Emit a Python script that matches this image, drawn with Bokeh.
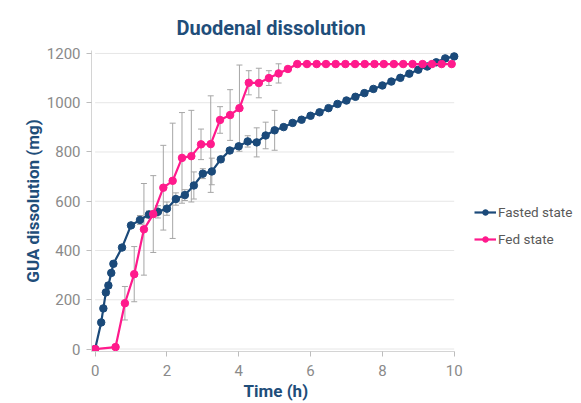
from bokeh.plotting import figure
from bokeh.models import Range1d, Legend, LegendItem, Whisker, ColumnDataSource, FixedTicker, Title
from bokeh.embed import file_html
from bokeh.resources import INLINE

# ---- data ----
fasted_time = [0, 0.17, 0.23, 0.30, 0.37, 0.45, 0.51, 0.75, 1.0, 1.25, 1.5, 1.75, 2.0, 2.25, 2.5,
               2.75, 3.0, 3.25, 3.5, 3.75, 4.0, 4.25, 4.5, 4.75, 5.0, 5.25, 5.5, 5.75, 6.0, 6.25,
               6.5, 6.75, 7.0, 7.25, 7.5, 7.75, 8.0, 8.25, 8.5, 8.75, 9.0, 9.25, 9.5, 9.75, 10.0]
fasted_mg = [0, 108, 165, 230, 258, 309, 346, 412, 502, 524, 546, 557, 570, 609, 625,
             664, 712, 721, 770, 806, 823, 843, 839, 867, 888, 901, 918, 931, 947, 961,
             978, 995, 1009, 1024, 1039, 1056, 1070, 1086, 1101, 1118, 1134, 1147, 1164, 1180, 1188]
fasted_err = [0, 10, 10, 12, 12, 10, 10, 0, 0, 18, 15, 25, 27, 25, 22,
              55, 20, 54, 12, 10, 10, 23, 59, 54, 81, 0, 0, 0, 0, 0,
              0, 0, 0, 0, 0, 0, 0, 0, 0, 0, 0, 0, 0, 0, 0]

fed_time = [0, 0.57, 0.83, 1.09, 1.36, 1.62, 1.90, 2.16, 2.42, 2.68, 2.95, 3.22, 3.48, 3.76,
            4.02, 4.28, 4.56, 4.84, 5.11, 5.37, 5.63, 5.90, 6.17, 6.43, 6.70, 6.97, 7.24,
            7.51, 7.78, 8.04, 8.32, 8.58, 8.84, 9.12, 9.38, 9.65, 9.93]
fed_mg = [0, 8, 186, 304, 486, 548, 655, 683, 776, 783, 831, 832, 930, 950,
          978, 1081, 1080, 1100, 1119, 1137, 1157, 1157, 1157, 1157, 1157, 1157, 1157,
          1157, 1157, 1157, 1157, 1157, 1157, 1157, 1157, 1157, 1157]
fed_err = [0, 0, 68, 112, 186, 156, 172, 234, 184, 186, 62, 196, 54, 103,
           175, 49, 60, 30, 39, 0, 0, 0, 0, 0, 0, 0, 0,
           0, 0, 0, 0, 0, 0, 0, 0, 0, 0]

x_ticks = [0, 2, 4, 6, 8, 10]
y_ticks = [0, 200, 400, 600, 800, 1000, 1200]
series_names = ["Fasted state", "Fed state"]

BLUE = "#1b4a7a"
PINK = "#ff1a8c"
NAVY = "#1f4e7a"
GREY_TXT = "#8a8a8a"
FONT = "Roboto"

# frame extends to the right so that the legend can sit inside it
p = figure(width=576, height=402, output_backend="svg", toolbar_location=None,
           x_range=Range1d(-0.1, 13.35), y_range=Range1d(-10, 1212),
           min_border_left=91, min_border_right=2, min_border_top=50, min_border_bottom=51)

p.title.text = "Duodenal dissolution"
p.title.align = "left"
p.title.offset = 85
p.title.text_font = FONT
p.title.text_font_size = "20px"
p.title.text_font_style = "bold"
p.title.text_color = NAVY
p.title.standoff = 21

p.outline_line_color = None
p.xgrid.grid_line_color = None
p.ygrid.grid_line_color = None

# horizontal grid lines limited to the data span
p.segment(x0=[x_ticks[0]] * len(y_ticks), x1=[x_ticks[-1]] * len(y_ticks),
          y0=y_ticks, y1=y_ticks, line_color="#e6e6e6", line_width=1, level="underlay")

for ax in (p.xaxis[0], p.yaxis[0]):
    ax.axis_line_color = "#d4d4d4"
    ax.major_tick_line_color = "#bdbdbd"
    ax.major_tick_out = 5
    ax.major_tick_in = 0
    ax.minor_tick_line_color = None
    ax.major_label_text_font = FONT
    ax.major_label_text_font_size = "15px"
    ax.major_label_text_color = GREY_TXT
    ax.axis_label_text_font = FONT
    ax.axis_label_text_font_size = "17px"
    ax.axis_label_text_font_style = "bold"
    ax.axis_label_text_color = NAVY

p.xaxis.ticker = FixedTicker(ticks=x_ticks)
p.yaxis.ticker = FixedTicker(ticks=y_ticks)
p.xaxis.bounds = (-0.1, x_ticks[-1])
p.yaxis.axis_label = "GUA dissolution (mg)"
p.xaxis.major_label_standoff = 8
p.yaxis.major_label_standoff = 6
p.yaxis.axis_label_standoff = 1

# x-axis title placed under the data span (the frame is wider than the data)
xtitle = Title(text="Time (h)", align="left", offset=152, standoff=0,
               text_font=FONT, text_font_size="17px", text_font_style="bold",
               text_color=NAVY)
p.add_layout(xtitle, "below")

def add_series(t, v, e, color):
    src = ColumnDataSource(dict(t=t, v=v))
    idx = [i for i, x in enumerate(e) if x > 0]
    esrc = ColumnDataSource(dict(t=[t[i] for i in idx],
                                 lo=[v[i] - e[i] for i in idx],
                                 hi=[v[i] + e[i] for i in idx]))
    w = Whisker(source=esrc, base="t", lower="lo", upper="hi",
                line_color="#a6a6a6", line_width=1)
    w.upper_head.size = 6
    w.lower_head.size = 6
    w.upper_head.line_color = "#a6a6a6"
    w.lower_head.line_color = "#a6a6a6"
    p.add_layout(w)
    ln = p.line("t", "v", source=src, line_color=color, line_width=2.2)
    sc = p.scatter("t", "v", source=src, size=7.5, fill_color=color, line_color=color)
    return ln, sc

b_ln, b_sc = add_series(fasted_time, fasted_mg, fasted_err, BLUE)
f_ln, f_sc = add_series(fed_time, fed_mg, fed_err, PINK)

legend = Legend(items=[LegendItem(label=series_names[0], renderers=[b_ln, b_sc]),
                       LegendItem(label=series_names[1], renderers=[f_ln, f_sc])],
                location=(383, 103), orientation="vertical",
                background_fill_alpha=0, border_line_color=None,
                label_text_font=FONT, label_text_font_size="13.5px",
                label_text_color="#595959", glyph_width=22, glyph_height=14,
                label_height=18, spacing=9, padding=0, margin=0, label_standoff=2)
p.add_layout(legend, "center")

open("out.html", "w").write(file_html(p, INLINE))
